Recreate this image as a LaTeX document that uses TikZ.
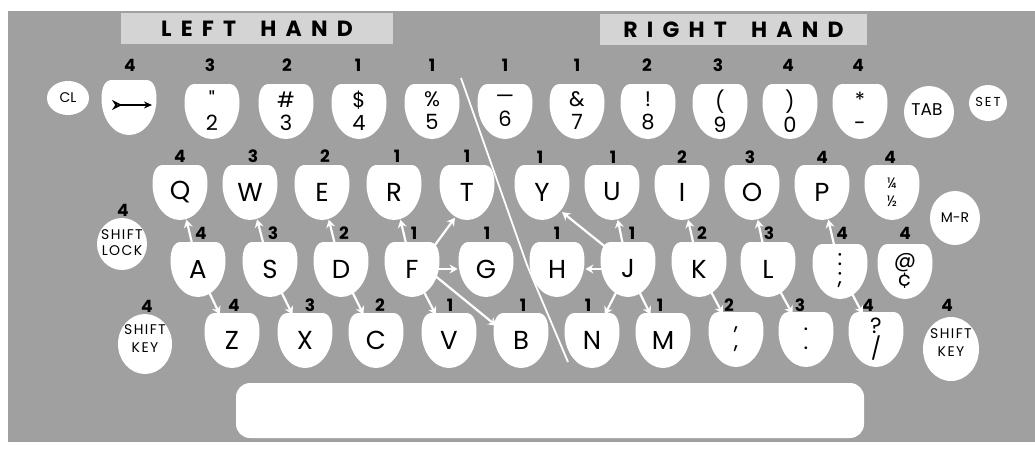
\documentclass[tikz,border=0pt]{standalone}
\usepackage{fontspec}
\setmainfont{Poppins}
\usetikzlibrary{arrows.meta}
\definecolor{panelgray}{RGB}{160,160,160}
\definecolor{tabgray}{RGB}{212,212,212}
\tikzset{
  % Fon va sarlavhalar
  panel/.style    = {fill=panelgray},
  handtab/.style  = {fill=tabgray, inner sep=0pt, minimum height=15.5pt,
                     font=\bfseries\fontsize{11}{12}\selectfont\addfontfeature{LetterSpace=42}},
  % Tugmalar
  keyfill/.style  = {fill=white},
  keylab/.style   = {circle, minimum size=28pt, inner sep=0pt, align=center,
                     font=\fontsize{13}{14}\selectfont},
  numlab/.style   = {keylab, font=\fontsize{10.5}{11.5}\selectfont},
  symlab/.style   = {keylab, font=\fontsize{11}{9.5}\selectfont},
  fraclab/.style  = {keylab, font=\fontsize{7.5}{9}\selectfont},
  ctrllab/.style  = {inner sep=0pt, align=center, font=\fontsize{7}{9.5}\selectfont},
  % Barmoq raqamlari
  finger/.style   = {inner sep=0pt, font=\bfseries\fontsize{8.5}{9}\selectfont},
  % Chiziqlar
  reach/.style    = {draw=white, line width=1.1pt, shorten <=-2pt,
                     -{Stealth[length=4pt,width=4.5pt]}},
  divider/.style  = {draw=white, line width=0.9pt},
  arrsym/.style   = {line width=0.8pt,
                     {Stealth[open,reversed,length=5pt,width=5pt]}-{Stealth[length=4pt,width=3.5pt]}},
}
% tugma shakli, markazi (#1,#2)
\newcommand{\keycap}[2]{%
  \fill[keyfill,shift={(#1,#2)}] (-17,-27) -- (17,-27)
    .. controls (24,-27) and (27.5,-20) .. (27.5,-8)
    .. controls (27.5,12) and (15,28) .. (0,28)
    .. controls (-15,28) and (-27.5,12) .. (-27.5,-8)
    .. controls (-27.5,-20) and (-24,-27) .. (-17,-27) -- cycle;}
% [uslub]{nom}{x}{y}{matn}{barmoq}{barmoq x,y}
\newcommand{\tkey}[7][keylab]{%
  \keycap{#3}{#4}
  \node[#1] (#2) at (#3,#4) {#5};
  \node[finger] (f#2) at (#7) {#6};}

\begin{document}
\begin{tikzpicture}[x=0.5pt,y=-0.5pt]
  \useasboundingbox (0,0) rectangle (1035,451);
  \fill[white] (0,0) rectangle (1035,451);
  % Fon
  \fill[panel] (8,11) rectangle (1035,442);
  \node[handtab, minimum width=136pt] (lefthand) at (257,28.5) {LEFT\hspace{1.1em}HAND};
  \node[handtab, minimum width=133.5pt] (righthand) at (733.5,29.5) {RIGHT\hspace{1.1em}HAND};
  % Ajratuvchi chiziq
  \coordinate (divtop) at (461,78);
  \coordinate (divmid) at (527,265);
  \coordinate (divbot) at (568,362);
  \draw[divider] (divtop) -- (divmid) -- (divbot);
  % Raqamlar qatori
  \fill[keyfill] (68,98) ellipse [x radius=21, y radius=17];
  \node[ctrllab] (kCL) at (68,98) {CL};
  \tkey[numlab]{kArr}{129}{107}{}{4}{130,65}
  \draw[arrsym] ([xshift=-8.5pt,yshift=1pt]kArr.center) -- ([xshift=11.5pt,yshift=1pt]kArr.center);
  \tkey[numlab]{k2}{212}{111}{\textquotedbl\\2}{3}{210,65}
  \tkey[numlab]{k3}{286}{111}{\#\\3}{2}{287,65}
  \tkey[numlab]{k4}{359}{111}{\$\\4}{1}{358,65}
  \tkey[numlab]{k5}{432}{111}{\%\\5}{1}{432,65}
  \tkey[numlab]{k6}{505}{111}{---\\6}{1}{505,65}
  \tkey[numlab]{k7}{577}{111}{\&\\7}{1}{577,65}
  \tkey[numlab]{k8}{648}{111}{!\\8}{2}{647,65}
  \tkey[numlab]{k9}{720}{111}{(\\9}{3}{718,65}
  \tkey[numlab]{k0}{790}{111}{)\\0}{4}{788,65}
  \tkey[numlab]{kMin}{860}{111}{*\\-}{4}{858,65}
  \fill[keyfill] (929,112) ellipse [x radius=25, y radius=26];
  \node[ctrllab, font=\fontsize{8.5}{9}\selectfont] (kTab) at (927,110) {TAB};
  \fill[keyfill] (988,103) ellipse [x radius=19, y radius=18];
  \node[ctrllab, font=\fontsize{6.5}{7}\selectfont\addfontfeature{LetterSpace=15}] (kSet) at (988,102) {SET};
  % Yuqori harflar qatori
  \tkey{kQ}{180}{192}{Q}{4}{180,156}
  \tkey{kW}{250}{192}{W}{3}{253,156}
  \tkey{kE}{322}{192}{E}{2}{325,156}
  \tkey{kR}{394}{192}{R}{1}{397,156}
  \tkey{kT}{467}{192}{T}{1}{467,156}
  \tkey{kY}{542}{192}{Y}{1}{540,157}
  \tkey{kU}{612}{192}{U}{1}{613,157}
  \tkey{kI}{682}{192}{I}{2}{682,157}
  \tkey{kO}{752}{192}{O}{3}{750,157}
  \tkey{kP}{822}{192}{P}{4}{822,157}
  \tkey[fraclab]{kFrac}{892}{192}{¼\\½}{4}{890,157}
  \fill[keyfill] (955,218) ellipse [x radius=25, y radius=27];
  \node[ctrllab] (kMR) at (955,218) {M-R};
  % Asosiy qator
  \fill[keyfill] (122,244) ellipse [x radius=25, y radius=26];
  \node[ctrllab, font=\fontsize{7}{8}\selectfont\addfontfeature{LetterSpace=10}] (kLock) at (122,243) {SHIFT\\LOCK};
  \node[finger] (fkLock) at (123,210) {4};
  \tkey{kA}{198}{269}{A}{4}{201,233}
  \tkey{kS}{270}{269}{S}{3}{273,233}
  \tkey{kD}{341}{269}{D}{2}{344,233}
  \tkey{kF}{412}{269}{F}{1}{414,233}
  \tkey{kG}{486}{269}{G}{1}{487,233}
  \tkey{kH}{557}{269}{H}{1}{557,233}
  \tkey{kJ}{628}{269}{J}{1}{632,233}
  \tkey{kK}{699}{269}{K}{2}{702,233}
  \tkey{kL}{768}{269}{L}{3}{769,233}
  \tkey[symlab]{kSemi}{840}{271}{:\\;}{4}{842,233}
  \tkey[symlab]{kAt}{905}{271}{@\\¢}{4}{905,233}
  % Pastki qator
  \fill[keyfill] (145,344) ellipse [x radius=27, y radius=30];
  \node[ctrllab, font=\fontsize{7}{9}\selectfont\addfontfeature{LetterSpace=10}] (kShL) at (145,339) {SHIFT\\KEY};
  \node[finger] (fkShL) at (147,306) {4};
  \tkey{kZ}{232}{340}{Z}{4}{234,305}
  \tkey{kX}{305}{340}{X}{3}{310,305}
  \tkey{kC}{376}{340}{C}{2}{380,305}
  \tkey{kV}{449}{340}{V}{1}{450,305}
  \tkey{kB}{521}{340}{B}{1}{523,305}
  \tkey{kN}{592}{340}{N}{1}{588,305}
  \tkey{kM}{663}{340}{M}{1}{660,305}
  \tkey[symlab]{kComma}{736}{339}{,\\,}{2}{729,305}
  \tkey[symlab]{kDot}{806}{339}{.\\.}{3}{800,305}
  \tkey[symlab]{kQues}{876}{339}{?\\/}{4}{868,305}
  \fill[keyfill] (951,349) ellipse [x radius=28, y radius=32];
  \node[ctrllab, font=\fontsize{7}{9}\selectfont\addfontfeature{LetterSpace=10}] (kShR) at (951,343) {SHIFT\\KEY};
  \node[finger] (fkShR) at (947,305) {4};
  % Bo'sh joy tugmasi
  \fill[keyfill, rounded corners=7pt] (236,383) rectangle (864,438);
  % Barmoq yo'llari
  \draw[reach] (kA) -- (kQ);
  \draw[reach] (kS) -- (kW);
  \draw[reach] (kD) -- (kE);
  \draw[reach] (kF) -- (kR);
  \draw[reach] (kF.45) -- (kT.-115);
  \draw[reach] (kF) -- (kG);
  \draw[reach] (kA) -- (kZ);
  \draw[reach] (kS) -- (kX);
  \draw[reach] (kD) -- (kC);
  \draw[reach] (kF) -- (kV);
  \draw[reach] (kF.-20) -- (kB.150);
  \draw[reach] (kJ.135) -- (kY.-45);
  \draw[reach] (kJ) -- (kU);
  \draw[reach] (kK) -- (kI);
  \draw[reach] (kL) -- (kO);
  \draw[reach] (kSemi) -- (kP);
  \draw[reach] (kJ) -- (kH);
  \draw[reach] (kJ) -- (kN);
  \draw[reach] (kJ) -- (kM);
  \draw[reach] (kK) -- (kComma);
  \draw[reach] (kL) -- (kDot);
  \draw[reach] (kSemi) -- (kQues);
\end{tikzpicture}
\end{document}
